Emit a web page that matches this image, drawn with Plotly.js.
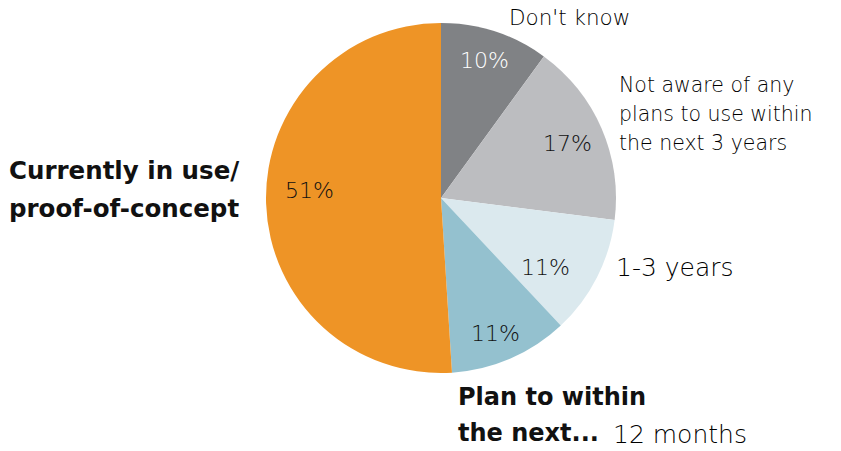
<!DOCTYPE html>
<html><head><meta charset="utf-8">
<script src="https://cdn.plot.ly/plotly-3.0.1.min.js"></script>
<style>body{margin:0;padding:0;background:#fff}#chart{width:841px;height:451px}</style>
</head><body><div id="chart"></div>
<script>
const categories = ["Don't know", "Not aware of any plans to use within the next 3 years", "1-3 years", "12 months", "Currently in use/proof-of-concept"];
const values = [10, 17, 11, 11, 51];
const colors = ["#808285", "#bcbdc0", "#dbe9ee", "#94c1cf", "#ee9426"];
const textColors = ["#ffffff", "#111111", "#111111", "#111111", "#111111"];

const FONT = "'DejaVu Sans', sans-serif";
const W = 841, H = 451;
const cx = 441, cy = 198, r = 175;
// percentage label centres (pixels), as placed in the original
const pctPos = [[484, 60], [567, 143], [545, 267], [496, 333], [309, 190]];

const trace = {
  type: 'pie',
  labels: categories,
  values: values,
  sort: false,
  direction: 'clockwise',
  rotation: 0,
  marker: {colors: colors, line: {width: 0}},
  textinfo: 'none',
  hoverinfo: 'none',
  showlegend: false,
  domain: {x: [(cx - r) / W, (cx + r) / W], y: [(H - cy - r) / H, (H - cy + r) / H]}
};

function ann(text, x, y, size, bold, color, xanchor) {
  return {text: text, x: x / W, y: 1 - y / H, xref: 'paper', yref: 'paper',
    xanchor: xanchor || 'left', yanchor: 'middle', showarrow: false, align: 'left',
    font: {family: FONT, size: size, color: color || (bold ? '#111111' : '#000000'), weight: bold ? 700 : 200}};
}

const annotations = [
  ann("Don't know", 507, 17, 21.5, false),
  ann("Not aware of any", 617, 85, 20.5, false),
  ann("plans to use within", 617, 114, 20.5, false),
  ann("the next 3 years", 617, 143, 20.5, false),
  ann("1-3 years", 614, 267, 25, false),
  ann("Plan to within", 456, 397, 24, true),
  ann("the next...", 456, 433, 24, true),
  ann("12 months", 611, 434, 25, false),
  ann("Currently in use/", 7, 170, 24.5, true),
  ann("proof-of-concept", 7, 208, 24.5, true)
];
values.forEach((v, i) => {
  annotations.push(ann(v + '%', pctPos[i][0], pctPos[i][1], 22, false, textColors[i], 'center'));
});

const layout = {
  width: W, height: H,
  margin: {l: 0, r: 0, t: 0, b: 0},
  paper_bgcolor: '#ffffff',
  annotations: annotations
};

Plotly.newPlot('chart', [trace], layout, {displayModeBar: false, staticPlot: true});
</script></body></html>
